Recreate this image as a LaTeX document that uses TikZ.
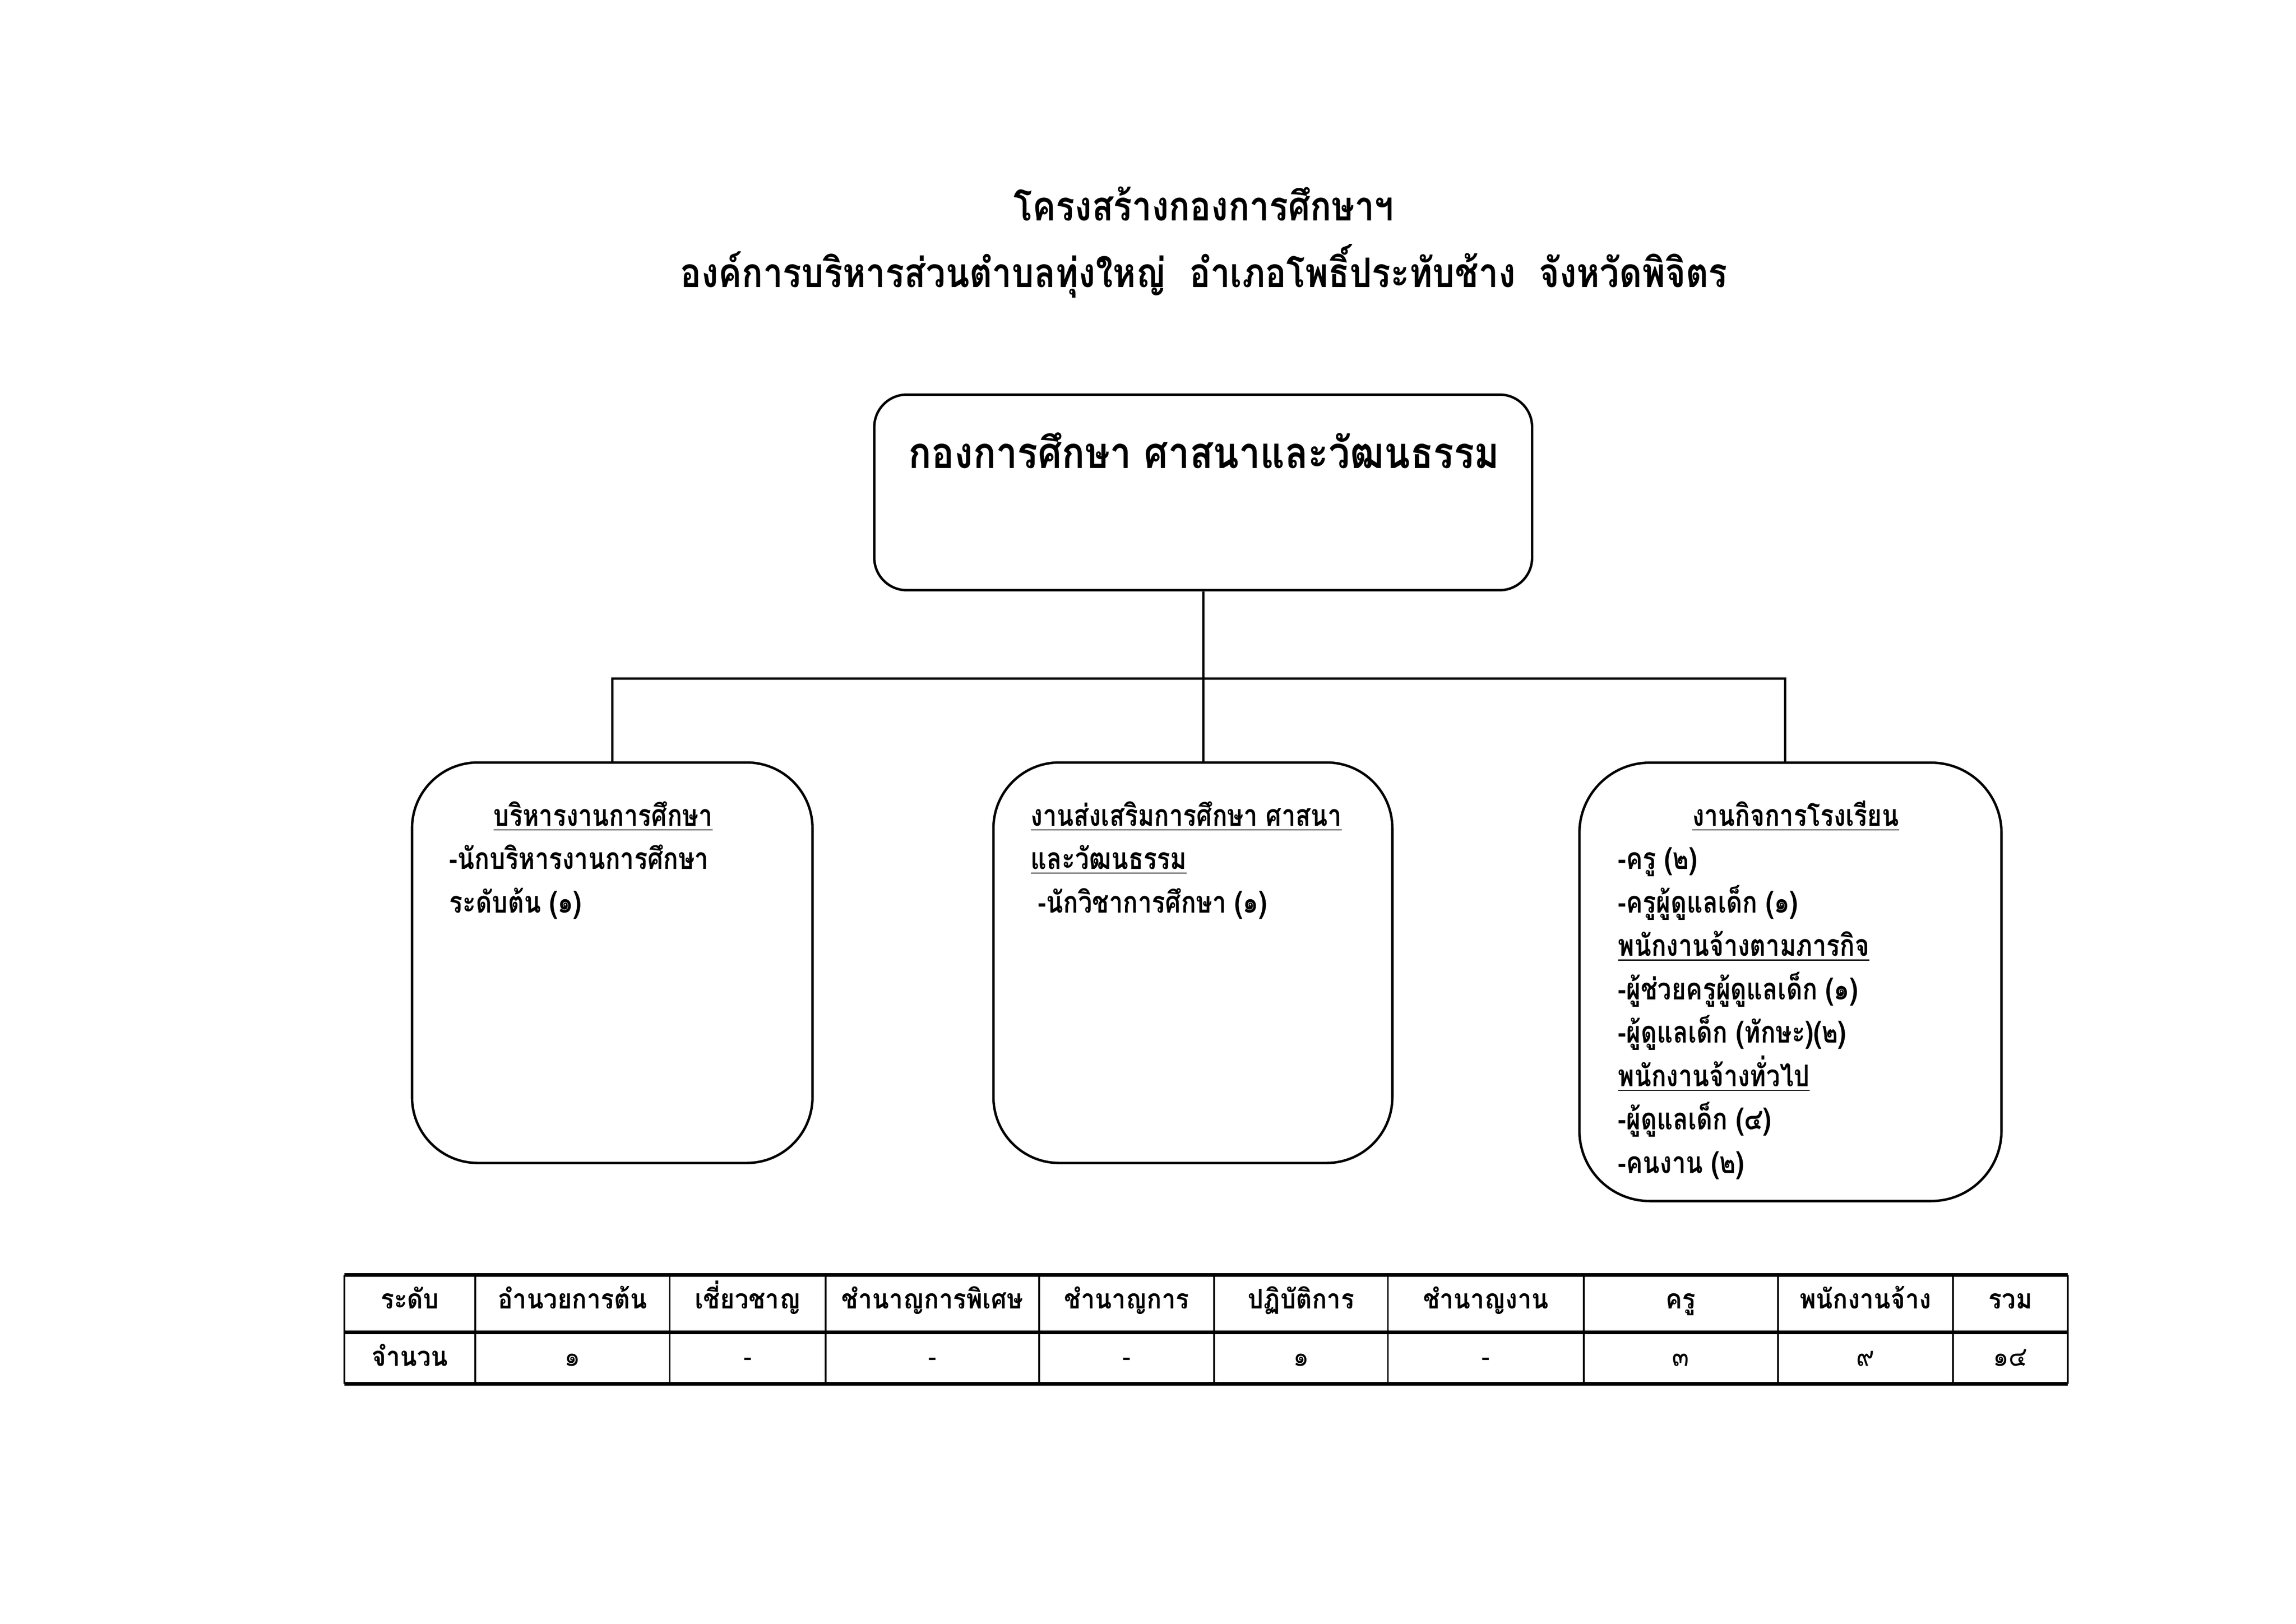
\documentclass[tikz,border=0pt]{standalone}
\usepackage{fontspec}
\newfontfamily\thaititle[Script=Thai,FakeStretch=0.86]{Loma}
\newfontfamily\thaitop[Script=Thai,FakeStretch=0.875]{Loma}
\newfontfamily\thaibox[Script=Thai,FakeStretch=0.83]{Loma}
\newfontfamily\thaitab[Script=Thai,FakeStretch=0.91]{Loma}
\begin{document}
\begin{tikzpicture}[x=0.1904mm,y=-0.1904mm,
  box/.style={draw, line width=0.9pt, inner sep=0pt},
  link/.style={line width=0.8pt},
  ttl/.style={anchor=base, inner sep=0pt, font=\thaititle\bfseries\fontsize{15}{18}\selectfont},
  toptxt/.style={anchor=base west, inner sep=0pt, font=\thaitop\bfseries\fontsize{16}{19}\selectfont},
  txt/.style={anchor=base west, inner sep=0pt, font=\thaibox\bfseries\fontsize{11}{13}\selectfont},
  ctxt/.style={anchor=base, inner sep=0pt, font=\thaibox\bfseries\fontsize{11}{13}\selectfont},
  hd/.style={anchor=base, inner sep=0pt, font=\thaitab\bfseries\fontsize{10}{12}\selectfont},
  vl/.style={anchor=base, inner sep=0pt, font=\thaitab\fontsize{10}{12}\selectfont},
  hline/.style={line width=1.3pt},
  vline/.style={line width=0.6pt}]
\useasboundingbox (0,0) rectangle (1560,1103);

% title
\node[ttl] (t1) at (818,150) {โครงสร้างกองการศึกษาฯ};
\node[ttl] (t2) at (818,195) {องค์การบริหารส่วนตำบลทุ่งใหญ่\ \ อำเภอโพธิ์ประทับช้าง\ \ จังหวัดพิจิตร};

% boxes
\node[box, rounded corners=4.2mm, minimum width=85.1mm, minimum height=25.3mm] (top) at (817.5,334.5) {};
\node[box, rounded corners=8.5mm, minimum width=51.8mm, minimum height=51.8mm] (left) at (416,654) {};
\node[box, rounded corners=8.5mm, minimum width=51.6mm, minimum height=51.8mm] (mid) at (810.5,654) {};
\node[box, rounded corners=9.1mm, minimum width=54.6mm, minimum height=56.7mm] (right) at (1216.5,667) {};

\node[toptxt] (toplabel) at (617,318) {กองการศึกษา ศาสนาและวัฒนธรรม};

% connectors
\coordinate (jl) at (416,461);
\coordinate (jr) at (1213,461);
\draw[link] (top.south) -- (top.south |- jl);
\draw[link] (left.north) -- (jl) -- (jr) -- (jr |- right.north);
\draw[link] (top.south |- jl) -- (top.south |- mid.north);

% left box text
\node[txt] (l1) at (335,561) {\underline{บริหารงานการศึกษา}};
\node[txt] (l2) at (305,590.5) {-นักบริหารงานการศึกษา};
\node[txt] (l3) at (305,620) {ระดับต้น (๑)};

% middle box text
\node[txt] (m1) at (700,561) {\underline{งานส่งเสริมการศึกษา ศาสนา}};
\node[txt] (m2) at (700,590.5) {\underline{และวัฒนธรรม}};
\node[txt] (m3) at (705,620) {-นักวิชาการศึกษา (๑)};

% right box text
\node[ctxt] (r1) at (1220,561) {\underline{งานกิจการโรงเรียน}};
\node[txt] (r2) at (1099,590.5) {-ครู (๒)};
\node[txt] (r3) at (1099,620) {-ครูผู้ดูแลเด็ก (๑)};
\node[txt] (r4) at (1099,649.5) {\underline{พนักงานจ้างตามภารกิจ}};
\node[txt] (r5) at (1099,679) {-ผู้ช่วยครูผู้ดูแลเด็ก (๑)};
\node[txt] (r6) at (1099,708.5) {-ผู้ดูแลเด็ก (ทักษะ)(๒)};
\node[txt] (r7) at (1099,738) {\underline{พนักงานจ้างทั่วไป}};
\node[txt] (r8) at (1099,767.5) {-ผู้ดูแลเด็ก (๔)};
\node[txt] (r9) at (1099,797) {-คนงาน (๒)};

% table grid
\foreach \yy in {866,905,940} \draw[hline] (234,\yy) -- (1405,\yy);
\foreach \xx in {234,323,455,561,706,825,943,1076,1208,1327,1405} \draw[vline] (\xx,866) -- (\xx,940);

% table text
\node[hd] (h0) at (278.5,889) {ระดับ};
\node[hd] (v0) at (278.5,928) {จำนวน};
\foreach \cx/\h/\v [count=\i] in {389/อำนวยการต้น/๑, 508/เชี่ยวชาญ/-, 633.5/ชำนาญการพิเศษ/-, 765.5/ชำนาญการ/-, 884/ปฏิบัติการ/๑, 1009.5/ชำนาญงาน/-, 1142/ครู/๓, 1267.5/พนักงานจ้าง/๙, 1366/รวม/๑๔}
{
  \node[hd] (h\i) at (\cx,889) {\h};
  \node[vl] (v\i) at (\cx,928) {\v};
}
\end{tikzpicture}
\end{document}
